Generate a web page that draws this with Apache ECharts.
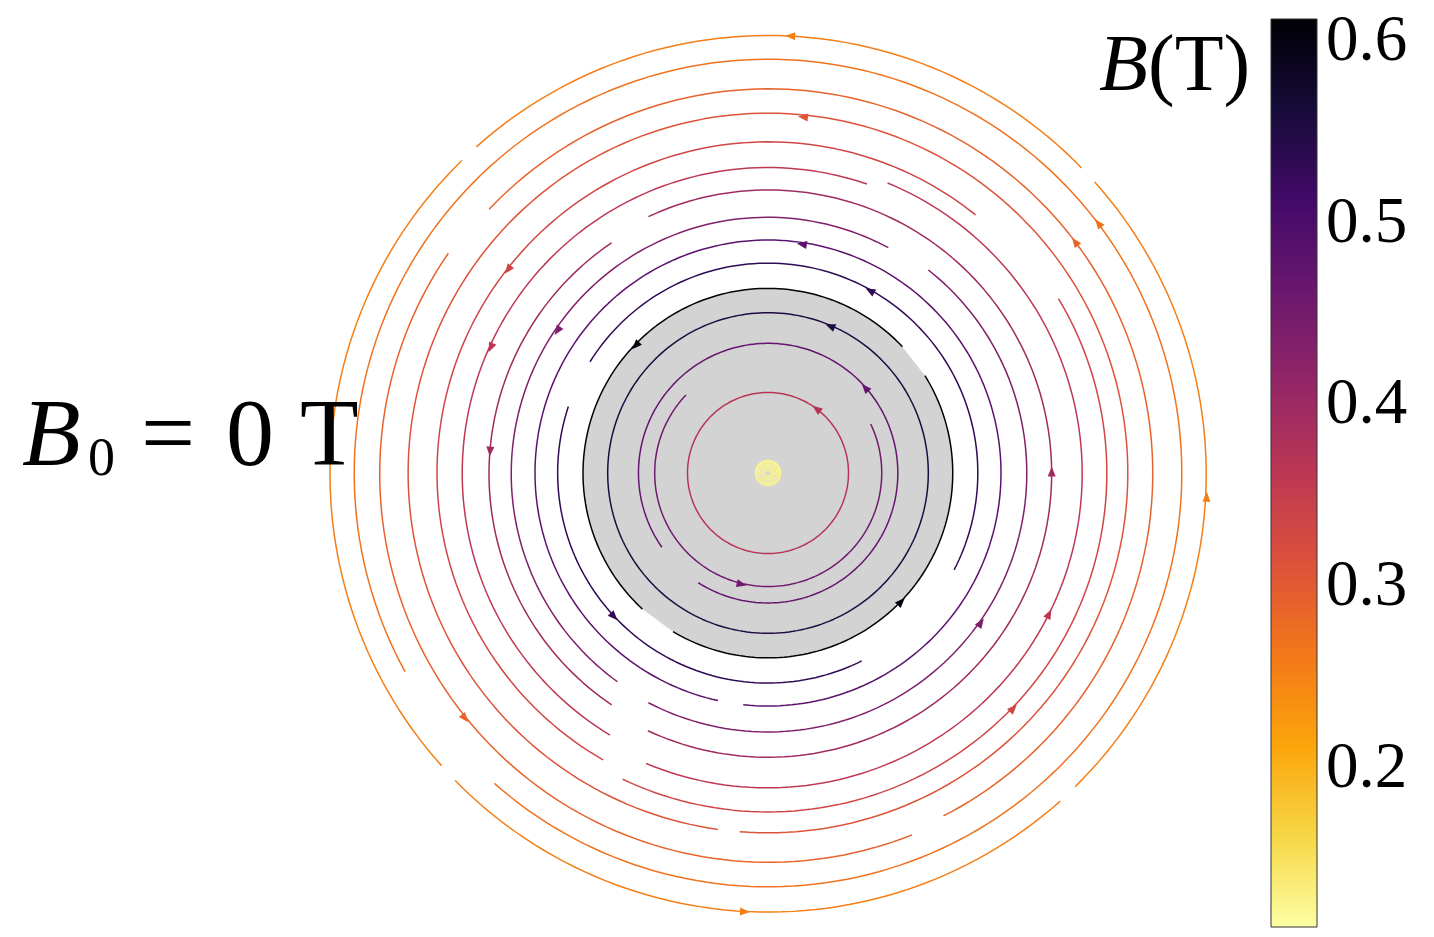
<!DOCTYPE html>
<html><head><meta charset="utf-8">
<script src="https://cdn.jsdelivr.net/npm/echarts@6/dist/echarts.min.js"></script>
<style>html,body{margin:0;padding:0;background:#fff}#chart{width:1434px;height:937px}</style>
</head><body><div id="chart"></div>
<script>
// Field strength B (T) carried by each streamline (outermost first, then inside the wire, then the axis)
const lineB = [0.256, 0.271, 0.290, 0.312, 0.334, 0.361, 0.398, 0.436, 0.481, 0.533, 0.607,
               0.555, 0.470, 0.455, 0.370, 0.125, 0.125, 0.125, 0.125, 0.125, 0.125];
// Streamline pieces: [r start, angle start (deg, CCW from +x), r end, angle end]
const lineSegments = [
  [[437.5,44.2,437.5,131.8],[437.5,134.4,438.5,221.9],[438.7,224.5,439.4,311.7],[439.0,314.4,437.5,401.7]],
  [[413.8,228.6,413.8,568.7]],
  [[387.9,145.5,389.5,291.7],[385.2,297.1,383.8,496.6]],
  [[359.8,265.5,359.9,622.0]],
  [[331.2,51.2,330.9,240.1],[339.0,244.6,338.8,391.0]],
  [[305.4,71.1,306.0,238.9],[315.0,247.2,313.7,427.6]],
  [[278.3,124.2,279.7,236.0],[284.4,245.0,282.9,475.0]],
  [[255.4,61.9,257.4,234.2],[259.0,242.5,258.7,411.7]],
  [[233.0,263.9,233.0,617.6]],
  [[210.4,161.6,210.0,296.5],[209.8,332.5,209.9,508.0]],
  [[184.4,43.2,185.2,227.3],[184.9,239.1,184.7,391.8]],
  [[160.3,0,160.3,360]],
  [[130.0,237.6,129.5,575.0]],
  [[113.2,136.4,113.8,385.5]],
  [[80.5,0,80.5,360]],
  [[12.5,0,12.5,360]],[[11,0,11,360]],[[9,0,9,360]],[[7,0,7,360]],[[5,0,5,360]],[[3,0,3,360]]
];
// The wire cross-section is bounded by this streamline
const wireLine = 10;
// Arrow heads: [streamline index, r, angle (deg)]
const arrowMarks = [
  [0,437.6,87.1],[0,439.3,356.9],[0,439.3,267.0],
  [1,414.1,37.1],
  [2,384.4,37.0],[2,389.8,219.0],
  [3,357.7,84.4],
  [4,330.1,142.0],[4,339.9,316.2],
  [5,304.3,155.7],[5,314.4,333.4],
  [6,278.8,175.6],[6,283.7,0.3],
  [7,254.1,146.0],[7,260.3,324.9],
  [8,231.2,81.6],
  [9,208.9,60.8],[9,210.5,223.0],
  [10,183.8,136.1],[10,185.3,316.0],
  [11,159.5,67.1],
  [12,129.3,41.3],
  [13,114.4,256.7],
  [14,80.5,53.0]
];
// Colour bar
const cbarMin = 0.1136, cbarMax = 0.613;
const cbarTicks = [0.2, 0.3, 0.4, 0.5, 0.6];
const infernoStops = ['#000004','#160b39','#420a68','#6a176e','#932667','#bc3754','#dd513a','#f37819','#fca50a','#f6d746','#fcffa4'];
const infernoR = infernoStops.slice().reverse();

const chart = echarts.init(document.getElementById('chart'), null, {renderer: 'canvas'});
const norm = a => ((a % 360) + 360) % 360;

function arcPoints(api, r0, a0, r1, a1) {
  const n = Math.max(2, Math.ceil(Math.abs(a1 - a0) / 1.5));
  const pts = [];
  for (let i = 0; i <= n; i++) {
    const t = i / n;
    pts.push(api.coord([r0 + (r1 - r0) * t, norm(a0 + (a1 - a0) * t)]));
  }
  return pts;
}

const streamData = [];
lineSegments.forEach((segs, i) => segs.forEach(s => streamData.push([s[0], s[1], s[2], s[3], lineB[i]])));
const arrowData = arrowMarks.map(m => [m[1], m[2], lineB[m[0]]]);

const option = {
  animation: false,
  backgroundColor: '#ffffff',
  polar: { center: [768, 473], radius: 460 },
  angleAxis: { type: 'value', min: 0, max: 360, startAngle: 0, clockwise: false, show: false },
  radiusAxis: { type: 'value', min: 0, max: 460, show: false },
  grid: { left: 1271, top: 19, width: 46, height: 908, outerBoundsMode: 'none', containLabel: false },
  xAxis: { type: 'value', min: 0, max: 1, show: false },
  yAxis: {
    type: 'value', min: cbarMin, max: cbarMax, position: 'right',
    axisLine: { show: false }, splitLine: { show: false },
    axisTick: { show: true, length: 7, customValues: cbarTicks, lineStyle: { color: '#000', width: 1.3 } },
    axisLabel: { show: true, customValues: cbarTicks, margin: 9, color: '#000', fontSize: 65,
      fontFamily: 'Liberation Serif', padding: [6, 0, 0, 0], formatter: v => v.toFixed(1) }
  },
  visualMap: [
    { type: 'continuous', show: false, min: cbarMin, max: cbarMax, dimension: 4, seriesIndex: 1, inRange: { color: infernoR } },
    { type: 'continuous', show: false, min: cbarMin, max: cbarMax, dimension: 2, seriesIndex: 2, inRange: { color: infernoR } }
  ],
  series: [
    {
      type: 'custom', coordinateSystem: 'polar', z: 1, silent: true,
      data: [[0, 0]],
      renderItem: (params, api) => {
        let pts = [];
        lineSegments[wireLine].forEach(s => { pts = pts.concat(arcPoints(api, s[0], s[1], s[2], s[3])); });
        return { type: 'polygon', shape: { points: pts }, style: { fill: '#d3d3d3', stroke: null } };
      }
    },
    {
      type: 'custom', coordinateSystem: 'polar', z: 2, silent: true,
      data: streamData,
      renderItem: (params, api) => ({
        type: 'polyline',
        shape: { points: arcPoints(api, api.value(0), api.value(1), api.value(2), api.value(3)) },
        style: { stroke: api.visual('color'), lineWidth: 1.5, fill: null, lineJoin: 'round' }
      })
    },
    {
      type: 'custom', coordinateSystem: 'polar', z: 3, silent: true,
      data: arrowData,
      renderItem: (params, api) => {
        const p = api.coord([api.value(0), norm(api.value(1))]);
        const c = api.coord([0, 0]);
        const dx = p[0] - c[0], dy = p[1] - c[1];
        const len = Math.hypot(dx, dy) || 1;
        const tx = dy / len, ty = -dx / len;
        const nx = -ty, ny = tx;
        const L = 10, W = 8;
        const tip = [p[0] + tx * L * 0.5, p[1] + ty * L * 0.5];
        const b = [p[0] - tx * L * 0.5, p[1] - ty * L * 0.5];
        return { type: 'polygon', shape: { points: [tip, [b[0] + nx * W / 2, b[1] + ny * W / 2], [b[0] - nx * W / 2, b[1] - ny * W / 2]] },
          style: { fill: api.visual('color'), stroke: null } };
      }
    },
    {
      type: 'custom', coordinateSystem: 'cartesian2d', z: 2, silent: true,
      data: [[0, cbarMax, 1, cbarMin]],
      renderItem: (params, api) => {
        const p0 = api.coord([api.value(0), api.value(1)]);
        const p1 = api.coord([api.value(2), api.value(3)]);
        return { type: 'rect', shape: { x: p0[0], y: p0[1], width: p1[0] - p0[0], height: p1[1] - p0[1] },
          style: { fill: new echarts.graphic.LinearGradient(0, 0, 0, 1,
            infernoStops.map((c, i) => ({ offset: i / (infernoStops.length - 1), color: c }))),
            stroke: '#333', lineWidth: 1 } };
      }
    }
  ],
  graphic: [
    { type: 'text', x: 22, y: 440, z: 100, style: { text: 'B', font: 'italic 96px "Liberation Serif"', fill: '#000', align: 'left', verticalAlign: 'middle' } },
    { type: 'text', x: 88, y: 461, z: 100, style: { text: '0', font: '54px "Liberation Serif"', fill: '#000', align: 'left', verticalAlign: 'middle' } },
    { type: 'text', x: 141, y: 440, z: 100, style: { text: '=', font: '96px "Liberation Serif"', fill: '#000', align: 'left', verticalAlign: 'middle' } },
    { type: 'text', x: 226, y: 440, z: 100, style: { text: '0', font: '96px "Liberation Serif"', fill: '#000', align: 'left', verticalAlign: 'middle' } },
    { type: 'text', x: 300, y: 440, z: 100, style: { text: 'T', font: '96px "Liberation Serif"', fill: '#000', align: 'left', verticalAlign: 'middle' } },
    { type: 'text', x: 1099, y: 69, z: 100, style: { text: 'B', font: 'italic 80px "Liberation Serif"', fill: '#000', align: 'left', verticalAlign: 'middle' } },
    { type: 'text', x: 1148, y: 69, z: 100, style: { text: '(T)', font: '80px "Liberation Serif"', fill: '#000', align: 'left', verticalAlign: 'middle' } }
  ]
};
chart.setOption(option);
</script>
</body></html>
